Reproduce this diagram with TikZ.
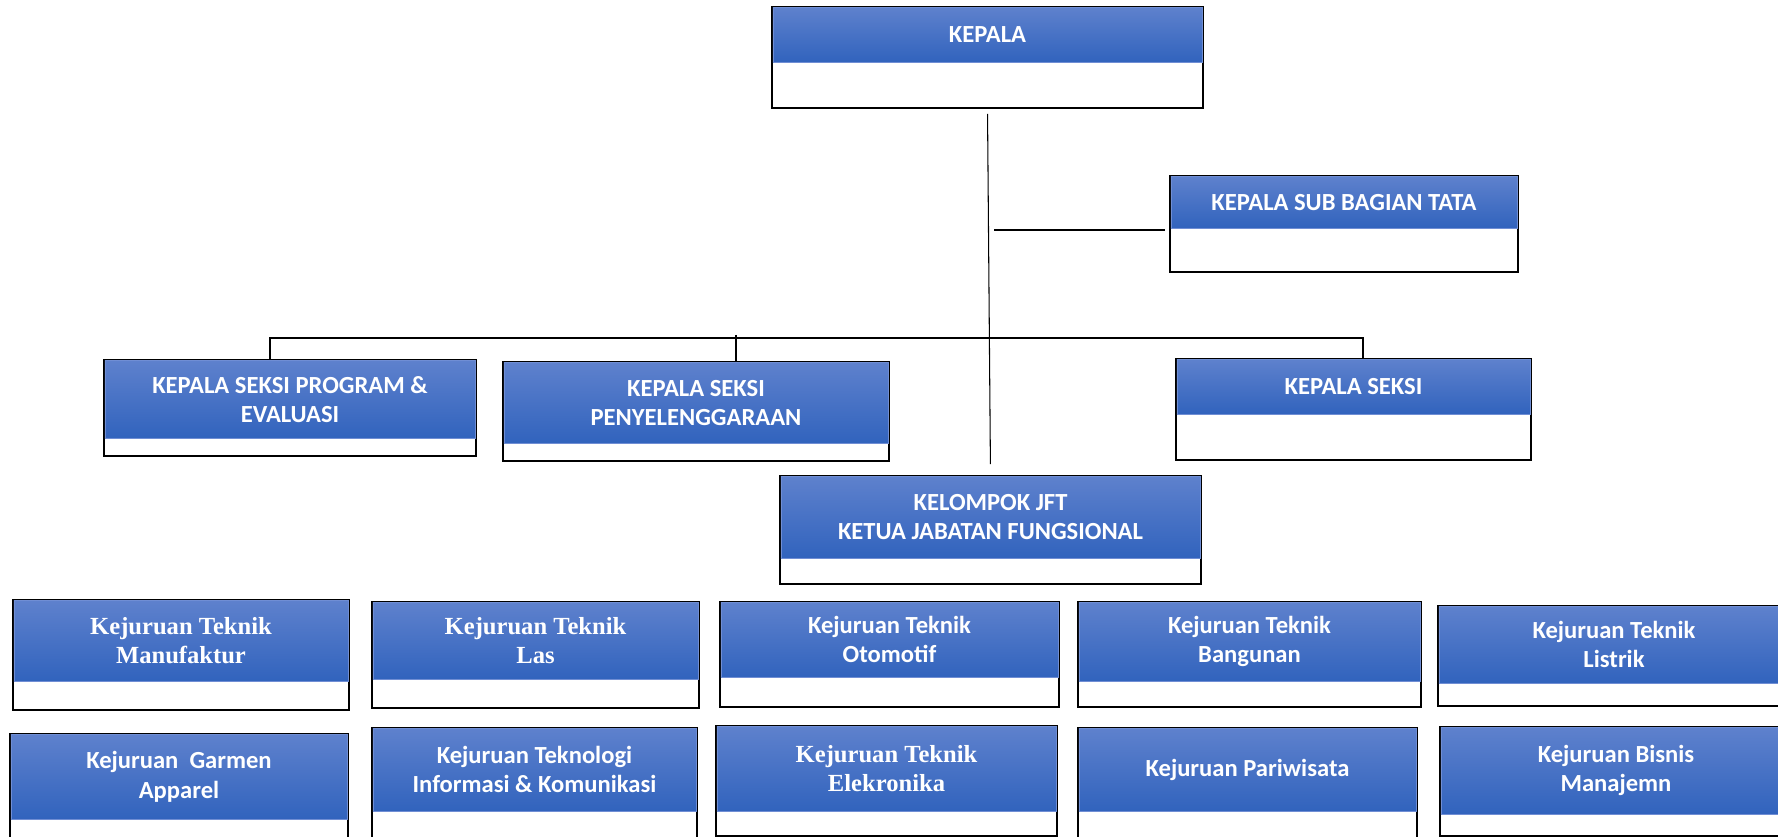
\documentclass[tikz,border=0pt]{standalone}
\usepackage{fontspec}
\setmainfont{Carlito}
\newfontfamily\timesunit{Liberation Serif}
\usetikzlibrary{calc,positioning}
\definecolor{bandtop}{RGB}{94,129,205}
\definecolor{bandbot}{RGB}{49,99,189}
\definecolor{bandedge}{RGB}{112,142,212}
\newcommand{\unitfont}{\fontsize{14pt}{16.6pt}\selectfont\bfseries}
\newcommand{\serifunit}{\fontsize{14pt}{16.6pt}\selectfont\timesunit\bfseries}
\tikzset{
	unitbox/.style 2 args={rectangle, draw=black, line width=1.1pt, fill=white, inner sep=0pt,
		minimum width=#1*0.02cm, minimum height=#2*0.02cm},
	band/.style 2 args={rectangle, anchor=north, yshift=-0.55pt, top color=bandtop, bottom color=bandbot,
		draw=bandedge, line width=0.4pt, inner sep=0pt, text=white, align=center, font=\unitfont,
		minimum width=#1*0.02cm-1.1pt, minimum height=#2*0.02cm},
	serifband/.style={font=\serifunit},
	link/.style={line width=1.2pt, color=black},
	thinlink/.style={line width=0.6pt, color=black}
}
\begin{document}
\begin{tikzpicture}[x=0.02cm,y=-0.02cm]
	\clip (0,0) rectangle (1778,837);
	%%%top
	\node[unitbox={431}{101}] (kepala) at (987.5,57.5) {};
	\node[band={431}{55}] (kepalaband) at (kepala.north) {KEPALA};
	\node[unitbox={348}{96}] (subbag) at (1344,224) {};
	\node[band={348}{52}] (subbagband) at (subbag.north) {KEPALA SUB BAGIAN TATA};

	%%%seksi
	\node[unitbox={372}{96}] (program) at (290,408) {};
	\node[band={372}{78}] (programband) at (program.north) {KEPALA SEKSI PROGRAM \&\\EVALUASI};
	\node[unitbox={386}{99}] (penyel) at (696,411.5) {};
	\node[band={386}{81}] (penyelband) at (penyel.north) {KEPALA SEKSI\\PENYELENGGARAAN};
	\node[unitbox={355}{101}] (seksi) at (1353.5,409.5) {};
	\node[band={355}{55}] (seksiband) at (seksi.north) {KEPALA SEKSI};
	\node[unitbox={421}{108}] (jft) at (990.5,530) {};
	\node[band={421}{82}] (jftband) at (jft.north) {KELOMPOK JFT\\KETUA JABATAN FUNGSIONAL};

	%%%kejuruan, row 1
	\node[unitbox={336}{110}] (manuf) at (181,655) {};
	\node[band={336}{81},serifband] (manufband) at (manuf.north) {Kejuruan Teknik\\Manufaktur};
	\node[unitbox={327}{106}] (las) at (535.5,655) {};
	\node[band={327}{77},serifband] (lasband) at (las.north) {Kejuruan Teknik\\Las};
	\node[unitbox={339}{105}] (otomotif) at (889.5,654.5) {};
	\node[band={339}{75}] (otomotifband) at (otomotif.north) {Kejuruan Teknik\\Otomotif};
	\node[unitbox={343}{105}] (bangunan) at (1249.5,654.5) {};
	\node[band={343}{79}] (bangunanband) at (bangunan.north) {Kejuruan Teknik\\Bangunan};
	\node[unitbox={352}{100}] (listrik) at (1614,656) {};
	\node[band={352}{77}] (listrikband) at (listrik.north) {Kejuruan Teknik\\Listrik};

	%%%kejuruan, row 2
	\node[unitbox={338}{112}] (garmen) at (179,790) {};
	\node[band={338}{85}] (garmenband) at (garmen.north) {Kejuruan~ Garmen\\Apparel};
	\node[unitbox={325}{110}] (tik) at (534.5,783) {};
	\node[band={325}{83}] (tikband) at (tik.north) {Kejuruan Teknologi\\Informasi \& Komunikasi};
	\node[unitbox={341}{110}] (elek) at (886.5,781) {};
	\node[band={341}{85},serifband] (elekband) at (elek.north) {Kejuruan Teknik\\Elekronika};
	\node[unitbox={339}{110}] (pariwisata) at (1247.5,783) {};
	\node[band={339}{83}] (pariwisataband) at (pariwisata.north) {Kejuruan Pariwisata};
	\node[unitbox={352}{109}] (bisnis) at (1616,781.5) {};
	\node[band={352}{87}] (bisnisband) at (bisnis.north) {Kejuruan Bisnis\\Manajemn};

	%%%lines
	\draw[thinlink, shorten <=0.1cm, shorten >=0.22cm] (kepala.south) -- (jft.north);
	\coordinate (tapsub) at (994,230);
	\draw[link, shorten >=0.08cm] (tapsub) -- (tapsub -| subbag.west);
	\coordinate (busL) at (270,338);
	\coordinate (busR) at (1363,338);
	\coordinate (busM) at (736,335);
	\draw[link] (busL |- program.north) -- (busL) -- (busR) -- (busR |- seksi.north);
	\draw[thinlink] (busM) -- (busM |- penyel.north);
\end{tikzpicture}
\end{document}
